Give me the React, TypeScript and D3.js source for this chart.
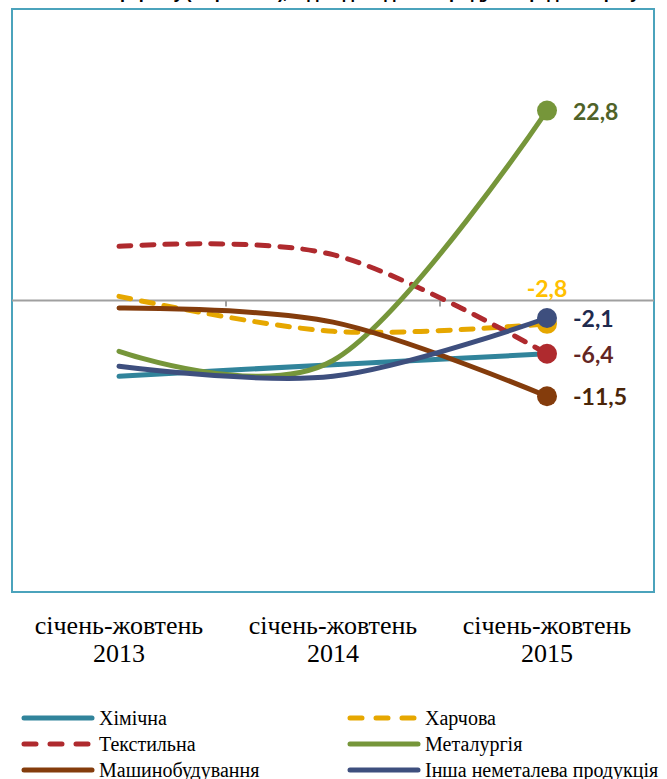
import React from "react";
import * as d3 from "d3";

const categories = ["2013", "2014", "2015"];
const catPrefix = "січень-жовтень";
const seriesNames = ["Хімічна", "Харчова", "Текстильна", "Металургія", "Машинобудування", "Інша неметалева продукція"];
const himichna = [-9.1, -7.7, -6.4];
const kharchova = [0.5, -3.7, -2.8];
const tekstylna = [6.5, 5.5, -6.4];
const metalurhiia = [-6.1, -7.2, 22.8];
const mashynobuduvannia = [-0.9, -2.6, -11.5];
const insha = [-7.9, -9.1, -2.1];
const seriesColors = ["#31849B", "#E6A700", "#AF2A2E", "#76963A", "#843C0C", "#3E4F7E"];
const labelColors = ["", "#FFC000", "#632523", "#4F6228", "#4A2508", "#1F2A4E"];
const dashed = [false, true, true, false, false, false];
const hasMarker = [false, true, true, true, true, true];
const yDomain = [-35, 35];
const titleText = "Темпи приросту (скорочення), % до відповідного періоду попереднього року";

const W = 667, H = 779;
const box = { left: 12, right: 654, top: 9, bottom: 592 };

export default function App() {
  const seriesValues = [himichna, kharchova, tekstylna, metalurhiia, mashynobuduvannia, insha];
  const x = d3.scaleBand<string>().domain(categories).range([box.left, box.right]);
  const cx = (c: string) => (x(c) as number) + x.bandwidth() / 2;
  const y = d3.scaleLinear().domain(yDomain).range([box.bottom, box.top]);
  const line = d3
    .line<number>()
    .x((_, i) => cx(categories[i]))
    .y((d) => y(d))
    .curve(d3.curveCardinal.tension(0));

  const lastCat = categories[categories.length - 1];
  const tickXs = categories.slice(1).map((c) => x(c) as number);

  const labelPos = (si: number, v: number) => {
    if (si === 1) return { x: cx(lastCat), y: y(v) - 27, anchor: "middle" };
    return { x: cx(lastCat) + 26, y: y(v) + 9, anchor: "start" };
  };

  const legendRows = [0, 1, 2];
  const legendColX = [22, 348];
  const legendRowY = [718, 744, 770];

  return (
    <svg width={W} height={H} style={{ position: "absolute", left: 0, top: 0, background: "#fff" }}>
      <text x={60} y={-2} fontFamily="Liberation Sans, Arial" fontWeight="bold" fontSize={18} fill="#000" textLength={580}>
        {titleText}
      </text>
      <rect x={box.left} y={box.top} width={box.right - box.left} height={box.bottom - box.top} fill="#fff" stroke="#4BA3BC" strokeWidth={2} />
      <line x1={box.left} x2={box.right} y1={y(0)} y2={y(0)} stroke="#A0A0A0" strokeWidth={2} />
      {tickXs.map((tx, i) => (
        <line key={i} x1={tx} x2={tx} y1={y(0)} y2={y(0) + 6} stroke="#A0A0A0" strokeWidth={2} />
      ))}
      {seriesValues.map((vals, si) => (
        <g key={si}>
          <path
            d={line(vals) || ""}
            fill="none"
            stroke={seriesColors[si]}
            strokeWidth={5}
            strokeLinecap="round"
            strokeDasharray={dashed[si] ? "12 11" : undefined}
          />
          {hasMarker[si] && (
            <circle cx={cx(lastCat)} cy={y(vals[vals.length - 1])} r={10} fill={seriesColors[si]} />
          )}
        </g>
      ))}
      {seriesValues.map((vals, si) => {
        if (!hasMarker[si]) return null;
        const v = vals[vals.length - 1];
        const p = labelPos(si, v);
        return (
          <text
            key={"l" + si}
            x={p.x}
            y={p.y}
            textAnchor={p.anchor as any}
            fontFamily="Lato, 'DejaVu Sans', sans-serif"
            fontWeight="bold"
            fontSize={23}
            fill={labelColors[si]}
          >
            {d3.format(".1f")(v).replace(".", ",").replace("−", "-")}
          </text>
        );
      })}
      {categories.map((c) => (
        <text key={c} x={cx(c)} textAnchor="middle" fontFamily="'Liberation Serif', serif" fontSize={26} fill="#000">
          <tspan x={cx(c)} y={634}>{catPrefix}</tspan>
          <tspan x={cx(c)} y={662}>{c}</tspan>
        </text>
      ))}
      {seriesNames.map((name, si) => {
        const col = si % 2;
        const row = legendRows[Math.floor(si / 2)];
        const lx = legendColX[col];
        const ly = legendRowY[row];
        return (
          <g key={"lg" + si}>
            <line
              x1={lx + 2}
              x2={lx + 70}
              y1={ly}
              y2={ly}
              stroke={seriesColors[si]}
              strokeWidth={5}
              strokeLinecap="round"
              strokeDasharray={dashed[si] ? "12 14" : undefined}
            />
            <text x={lx + 77} y={ly + 7} fontFamily="'Liberation Serif', serif" fontSize={20} fill="#000">
              {name}
            </text>
          </g>
        );
      })}
    </svg>
  );
}
